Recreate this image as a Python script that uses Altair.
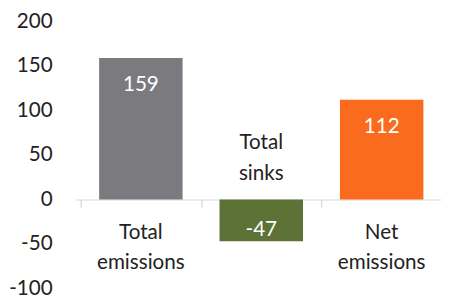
import altair as alt
import pandas as pd

categories = ["Total emissions", "Total sinks", "Net emissions"]
label_lines = [["Total", "emissions"], ["Total", "sinks"], ["Net", "emissions"]]
values = [159, -47, 112]
positions = [0, 1, 2]
colors = ["#7b7b7f", "#5c7236", "#fa6b1d"]
y_ticks = [-100, -50, 0, 50, 100, 150, 200]

df = pd.DataFrame({"cat": categories, "val": values, "idx": positions,
                   "lines": label_lines, "vtxt": [str(v) for v in values]})

FONT = "Lato"
FS = 21
W, H = 372, 272

xs = alt.Scale(domain=[-0.5, 2.452], nice=False, zero=False)
ys = alt.Scale(domain=[-100, 200], nice=False)

base = alt.Chart(df)

bars = base.mark_bar(size=85).encode(
    x=alt.X("idx:Q", scale=xs,
            axis=alt.Axis(values=[-0.5, 0.5, 1.5, 2.5], labels=False, grid=False,
                          title=None, domainColor="#d6d6d6", tickColor="#d6d6d6",
                          tickSize=8, domainWidth=1.2, tickWidth=1.2,
                          offset=-(H - H * 200 / 300))),
    y=alt.Y("val:Q", scale=ys,
            axis=alt.Axis(values=y_ticks, grid=False, domain=False, ticks=False,
                          title=None, labelFont=FONT, labelFontSize=FS,
                          labelColor="#222222", labelPadding=24,
                          labelExpr="datum.value + ''")),
    y2=alt.datum(0),
    color=alt.Color("cat:N", scale=alt.Scale(domain=categories, range=colors),
                    legend=None),
)

val_pos = base.transform_filter("datum.val >= 0").mark_text(
    font=FONT, fontSize=FS, color="white", baseline="middle", dy=28
).encode(x=alt.X("idx:Q", scale=xs), y=alt.Y("val:Q", scale=ys), text="vtxt:N")

val_neg = base.transform_filter("datum.val < 0").mark_text(
    font=FONT, fontSize=FS, color="white", baseline="middle", dy=-11
).encode(x=alt.X("idx:Q", scale=xs), y=alt.Y("val:Q", scale=ys), text="vtxt:N")

cat_pos = base.transform_filter("datum.val >= 0").mark_text(
    font=FONT, fontSize=FS, color="#222222", baseline="middle", lineHeight=31,
    dy=34
).encode(x=alt.X("idx:Q", scale=xs), y=alt.datum(0, scale=ys), text="lines")

cat_neg = base.transform_filter("datum.val < 0").mark_text(
    font=FONT, fontSize=FS, color="#222222", baseline="middle", lineHeight=31,
    dy=-57
).encode(x=alt.X("idx:Q", scale=xs), y=alt.datum(0, scale=ys), text="lines")

chart = alt.layer(bars, val_pos, val_neg, cat_pos, cat_neg).properties(
    width=W, height=H,
    autosize=alt.AutoSizeParams(type="none"),
    padding={"left": 69, "top": 11, "right": 0, "bottom": 11},
).configure_view(stroke=None)

chart.save("out.html", embed_options={"renderer": "svg", "actions": False})
